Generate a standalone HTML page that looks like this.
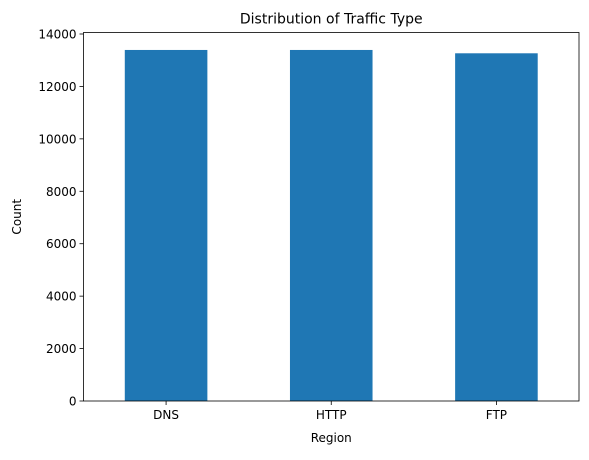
<!DOCTYPE html>
<html><head><meta charset="utf-8"><style>
body{margin:0;background:#fff;font-family:"Liberation Sans","DejaVu Sans",sans-serif;}
</style></head><body>
<svg width="589" height="455" xmlns="http://www.w3.org/2000/svg" font-family="DejaVu Sans, Liberation Sans, sans-serif">
<g id="bars"></g>
<g id="axes"></g>
</svg>
<script>
const categories = ["DNS","HTTP","FTP"];
const counts = [13391, 13391, 13264];
const yTicks = [0,2000,4000,6000,8000,10000,12000,14000];
const L=83.5,R=579,T=32.5,B=401;
const yMax=14057;
const ns="http://www.w3.org/2000/svg";
const svg=document.querySelector('svg');
const bars=document.getElementById('bars'), axes=document.getElementById('axes');
const xs=i=>L+(i+0.5)*(R-L)/categories.length;
const ys=v=>B-v*(B-T)/yMax;
const bw=0.5*(R-L)/categories.length;
function mk(tag,attrs,parent,text){const e=document.createElementNS(ns,tag);for(const k in attrs)e.setAttribute(k,attrs[k]);if(text!==undefined)e.textContent=text;parent.appendChild(e);return e;}
categories.forEach((c,i)=>{
  const r=mk('rect',{x:xs(i)-bw/2,y:ys(counts[i]),width:bw,height:B-ys(counts[i]),fill:'#1f77b4'},bars);
  
  
  mk('line',{x1:xs(i),x2:xs(i),y1:B,y2:B+4,stroke:'#000','stroke-width':0.8},axes);
  const t=mk('text',{x:xs(i),y:B+18,'text-anchor':'middle','font-size':12},axes,c);
  
  
});
yTicks.forEach(v=>{
  mk('line',{x1:L-4,x2:L,y1:ys(v),y2:ys(v),stroke:'#000','stroke-width':0.8},axes);
  const t=mk('text',{x:L-7,y:ys(v)+4.5,'text-anchor':'end','font-size':12},axes,v);
  
  
});
const f=mk('rect',{x:L,y:T,width:R-L,height:B-T,fill:'none',stroke:'#000','stroke-width':0.8},axes);


const ti=mk('text',{x:(L+R)/2,y:T-9,'text-anchor':'middle','font-size':14},axes,'Distribution of Traffic Type');


const xl=mk('text',{x:(L+R)/2,y:442,'text-anchor':'middle','font-size':12},axes,'Region');


const yl=mk('text',{x:0,y:0,'text-anchor':'middle','font-size':12,transform:`translate(21,${(T+B)/2}) rotate(-90)`},axes,'Count');


</script>
</body></html>
